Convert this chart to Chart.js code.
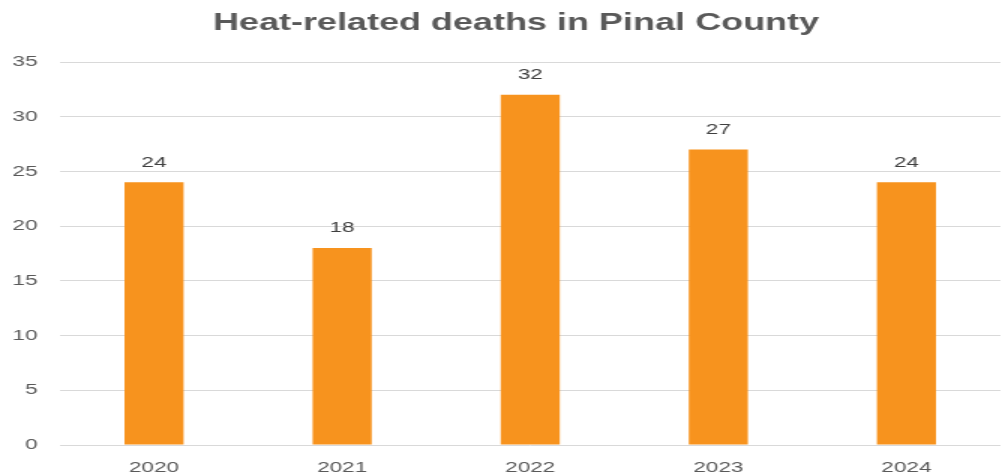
<!DOCTYPE html>
<html>
<head>
<meta charset="utf-8">
<script src="https://cdn.jsdelivr.net/npm/chart.js@4"></script>
<style>
  html, body { margin: 0; padding: 0; background: #fff; overflow: hidden; }
  #wrap { width: 1002px; height: 473px; }
  /* the reference picture is stretched sideways, text included */
  #chart { transform: scaleX(1.5); transform-origin: 0 0; }
</style>
</head>
<body>
<div id="wrap"><canvas id="chart" width="668" height="473" style="width:668px;height:473px"></canvas></div>
<script>
const years = ["2020", "2021", "2022", "2023", "2024"];
const deaths = [24, 18, 32, 27, 24];
const yTicks = [0, 5, 10, 15, 20, 25, 30, 35];
const chartTitle = "Heat-related deaths in Pinal County";

const FONT = "'Liberation Sans', Arial, sans-serif";

// title, a little right of centre like the reference
const titleDraw = {
    id: "titleDraw",
    afterDraw(chart) {
        const ctx = chart.ctx;
        ctx.save();
        ctx.font = "bold 24px " + FONT;
        ctx.fillStyle = "#595959";
        ctx.textAlign = "center";
        ctx.textBaseline = "middle";
        ctx.fillText(chartTitle, chart.width / 2 + 10, 23);
        ctx.restore();
    }
};

// value above every bar
const valueLabels = {
    id: "valueLabels",
    afterDatasetsDraw(chart) {
        const ctx = chart.ctx;
        const meta = chart.getDatasetMeta(0);
        ctx.save();
        ctx.font = "15px " + FONT;
        ctx.fillStyle = "#404040";
        ctx.textAlign = "center";
        ctx.textBaseline = "middle";
        meta.data.forEach((bar, i) => {
            ctx.fillText(deaths[i], bar.x, bar.y - 20);
        });
        ctx.restore();
    }
};

new Chart(document.getElementById("chart"), {
    type: "bar",
    data: {
        labels: years,
        datasets: [{
            data: deaths,
            backgroundColor: "#F7931E",
            barPercentage: 0.314,
            categoryPercentage: 1
        }]
    },
    options: {
        responsive: false,
        animation: false,
        devicePixelRatio: 1,
        layout: { padding: { left: 0, right: 1, top: 62, bottom: 0 } },
        plugins: {
            legend: { display: false },
            tooltip: { enabled: false },
            title: { display: false }
        },
        scales: {
            x: {
                grid: { display: false, drawTicks: false },
                border: { display: false },
                ticks: {
                    color: "#595959",
                    font: { family: FONT, size: 15 },
                    padding: 14
                },
                afterFit(axis) { axis.height = 28; }
            },
            y: {
                min: 0,
                max: 35,
                afterBuildTicks(axis) { axis.ticks = yTicks.map(v => ({ value: v })); },
                grid: { color: "#d9d9d9", drawTicks: false },
                border: { display: false },
                ticks: {
                    color: "#595959",
                    font: { family: FONT, size: 15 },
                    padding: 15
                },
                afterFit(axis) { axis.width = 40; }
            }
        }
    },
    plugins: [valueLabels, titleDraw]
});
</script>
</body>
</html>
